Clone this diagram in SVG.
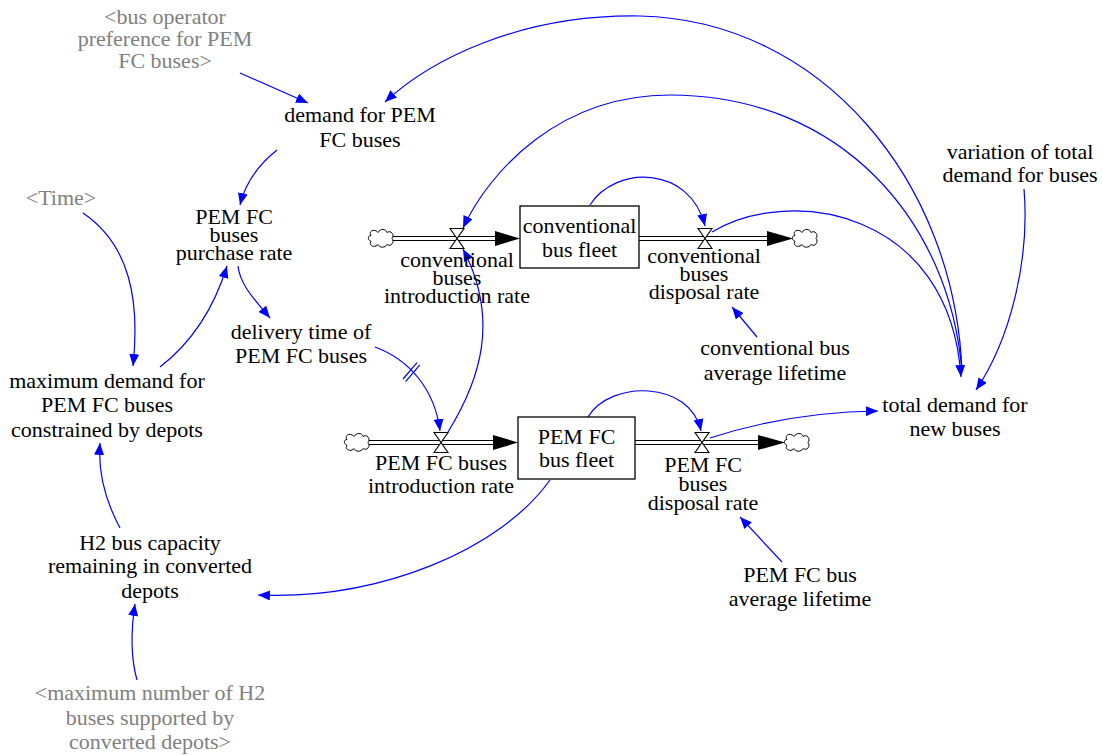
<svg xmlns="http://www.w3.org/2000/svg" width="1103" height="755" viewBox="0 0 1103 755">
<style>
text{font-family:"Liberation Serif","Times New Roman",serif;font-size:22px;fill:#000;text-anchor:middle}
text.g{fill:#808080}
.c{fill:none;stroke:#0000ff;stroke-width:1.2;marker-end:url(#ah)}
.d{fill:none;stroke:#0000ff;stroke-width:1.2}
.pipe{fill:none;stroke:#000;stroke-width:1.2}
.fa{fill:#000;stroke:none}
.box{fill:#fff;stroke:#000;stroke-width:1.3}
.valve{fill:#fff;stroke:#000;stroke-width:1.1}
.cloud{fill:#fff;stroke:#000;stroke-width:1}
</style>
<defs>
<marker id="ah" markerUnits="userSpaceOnUse" markerWidth="14" markerHeight="10" refX="12" refY="5" orient="auto"><path d="M0,0 L12,5 L0,10 z" fill="#0000ff"/></marker>
<path id="cloudShape" class="cloud" d="M-10,-3 C-13,-8 -6,-10 -3,-6 C-1,-10 5,-10 6,-6 C10,-9 14,-3 11,0 C14,3 10,9 6,6 C4,10 -2,9 -3,6 C-6,10 -13,7 -10,3 C-14,1 -13,-3 -10,-3 Z"/>
<path id="valveShape" class="valve" d="M-7,-10 H7 L-7,10 H7 Z"/>
</defs>
<rect width="1103" height="755" fill="#fff"/>

<g id="connectors">
<path class="c" d="M240,73 L308,103"/>
<path class="c" d="M277,150 C258,165 245,185 240,205"/>
<path class="c" d="M962,372 C955,180 820,20 640,16 C520,14 430,60 385,102"/>
<path class="c" d="M962,372 C950,220 840,95 670,95 C560,95 490,170 463,228"/>
<path class="c" d="M712,232 C790,185 950,210 961,377"/>
<path class="c" d="M1024,189 C1030,260 1010,340 976,390"/>
<path class="c" d="M710,438 Q790,412 878,411"/>
<path class="c" d="M590,205 C615,165 690,165 705,226"/>
<path class="c" d="M588,417 C610,380 690,380 701,431"/>
<path class="c" d="M448,432 C480,380 500,320 463,249"/>
<path class="c" d="M375,347 C410,360 435,390 440,431"/>
<path class="d" d="M403,379 L417,362.6 M405.6,381.7 L419.8,364.9"/>
<path class="c" d="M238,266 C240,285 255,300 270,318"/>
<path class="c" d="M160,367 C195,340 215,305 227,266"/>
<path class="c" d="M83,213 C130,245 140,300 133,366"/>
<path class="c" d="M120,528 C105,500 98,470 100,443"/>
<path class="c" d="M137,680 C130,655 131,630 135,604"/>
<path class="c" d="M550,480 C500,550 380,600 258,595"/>
<path class="c" d="M757,337 L732,307"/>
<path class="c" d="M782,562 L740,517"/>
</g>

<g id="flows">
<path class="pipe" d="M393,236.5 H496 M393,240.5 H496"/>
<polygon class="fa" points="495,231 520,238.5 495,246"/>
<path class="pipe" d="M639,236.5 H768 M639,240.5 H768"/>
<polygon class="fa" points="767,231 793,238.5 767,246"/>
<path class="pipe" d="M369,440.5 H494 M369,444.5 H494"/>
<polygon class="fa" points="493,435 518,442.5 493,450"/>
<path class="pipe" d="M635,440.5 H759 M635,444.5 H759"/>
<polygon class="fa" points="758,435 785,442.5 758,450"/>
<use href="#cloudShape" x="381" y="238.5"/>
<use href="#cloudShape" x="805" y="238.5"/>
<use href="#cloudShape" x="357" y="442.5"/>
<use href="#cloudShape" x="797" y="442.5"/>
</g>

<g id="bus_operator_preference"><text class="g" x="165" y="24">&lt;bus operator</text><text class="g" x="165" y="46">preference for PEM</text><text class="g" x="165" y="68">FC buses&gt;</text></g>
<g id="demand_for_PEM_FC_buses"><text x="360" y="122">demand for PEM</text><text x="360" y="147">FC buses</text></g>
<g id="time"><text class="g" x="61" y="205">&lt;Time&gt;</text></g>
<g id="PEM_FC_buses_purchase_rate"><text x="234" y="224">PEM FC</text><text x="234" y="242">buses</text><text x="234" y="260">purchase rate</text></g>
<g id="delivery_time"><text x="301" y="339">delivery time of</text><text x="301" y="363">PEM FC buses</text></g>
<g id="maximum_demand"><text x="107" y="388">maximum demand for</text><text x="107" y="412">PEM FC buses</text><text x="107" y="437">constrained by depots</text></g>
<g id="H2_bus_capacity"><text x="150" y="550">H2 bus capacity</text><text x="150" y="573">remaining in converted</text><text x="150" y="598">depots</text></g>
<g id="maximum_number_H2"><text class="g" x="150" y="700">&lt;maximum number of H2</text><text class="g" x="150" y="725">buses supported by</text><text class="g" x="150" y="749">converted depots&gt;</text></g>

<g id="conventional_bus_fleet"><rect class="box" x="520" y="206" width="119" height="62"/><text x="579.5" y="233">conventional</text><text x="579.5" y="257">bus fleet</text></g>
<g id="conventional_buses_introduction_rate"><use href="#valveShape" x="457" y="238.5"/><text x="457" y="267">conventional</text><text x="457" y="285">buses</text><text x="457" y="303">introduction rate</text></g>
<g id="conventional_buses_disposal_rate"><use href="#valveShape" x="705" y="238.5"/><text x="704" y="263">conventional</text><text x="704" y="281">buses</text><text x="704" y="299">disposal rate</text></g>

<g id="PEM_FC_bus_fleet"><rect class="box" x="518" y="417" width="117" height="62"/><text x="576.5" y="444">PEM FC</text><text x="576.5" y="467">bus fleet</text></g>
<g id="PEM_FC_buses_introduction_rate"><use href="#valveShape" x="441" y="442.5"/><text x="441" y="470">PEM FC buses</text><text x="441" y="493">introduction rate</text></g>
<g id="PEM_FC_buses_disposal_rate"><use href="#valveShape" x="702" y="442.5"/><text x="703" y="472">PEM FC</text><text x="703" y="491">buses</text><text x="703" y="510">disposal rate</text></g>

<g id="conventional_bus_average_lifetime"><text x="775" y="355">conventional bus</text><text x="775" y="380">average lifetime</text></g>
<g id="PEM_FC_bus_average_lifetime"><text x="800" y="582">PEM FC bus</text><text x="800" y="606">average lifetime</text></g>
<g id="total_demand_for_new_buses"><text x="955" y="412">total demand for</text><text x="955" y="436">new buses</text></g>
<g id="variation_of_total_demand"><text x="1020" y="159">variation of total</text><text x="1020" y="182">demand for buses</text></g>
</svg>
